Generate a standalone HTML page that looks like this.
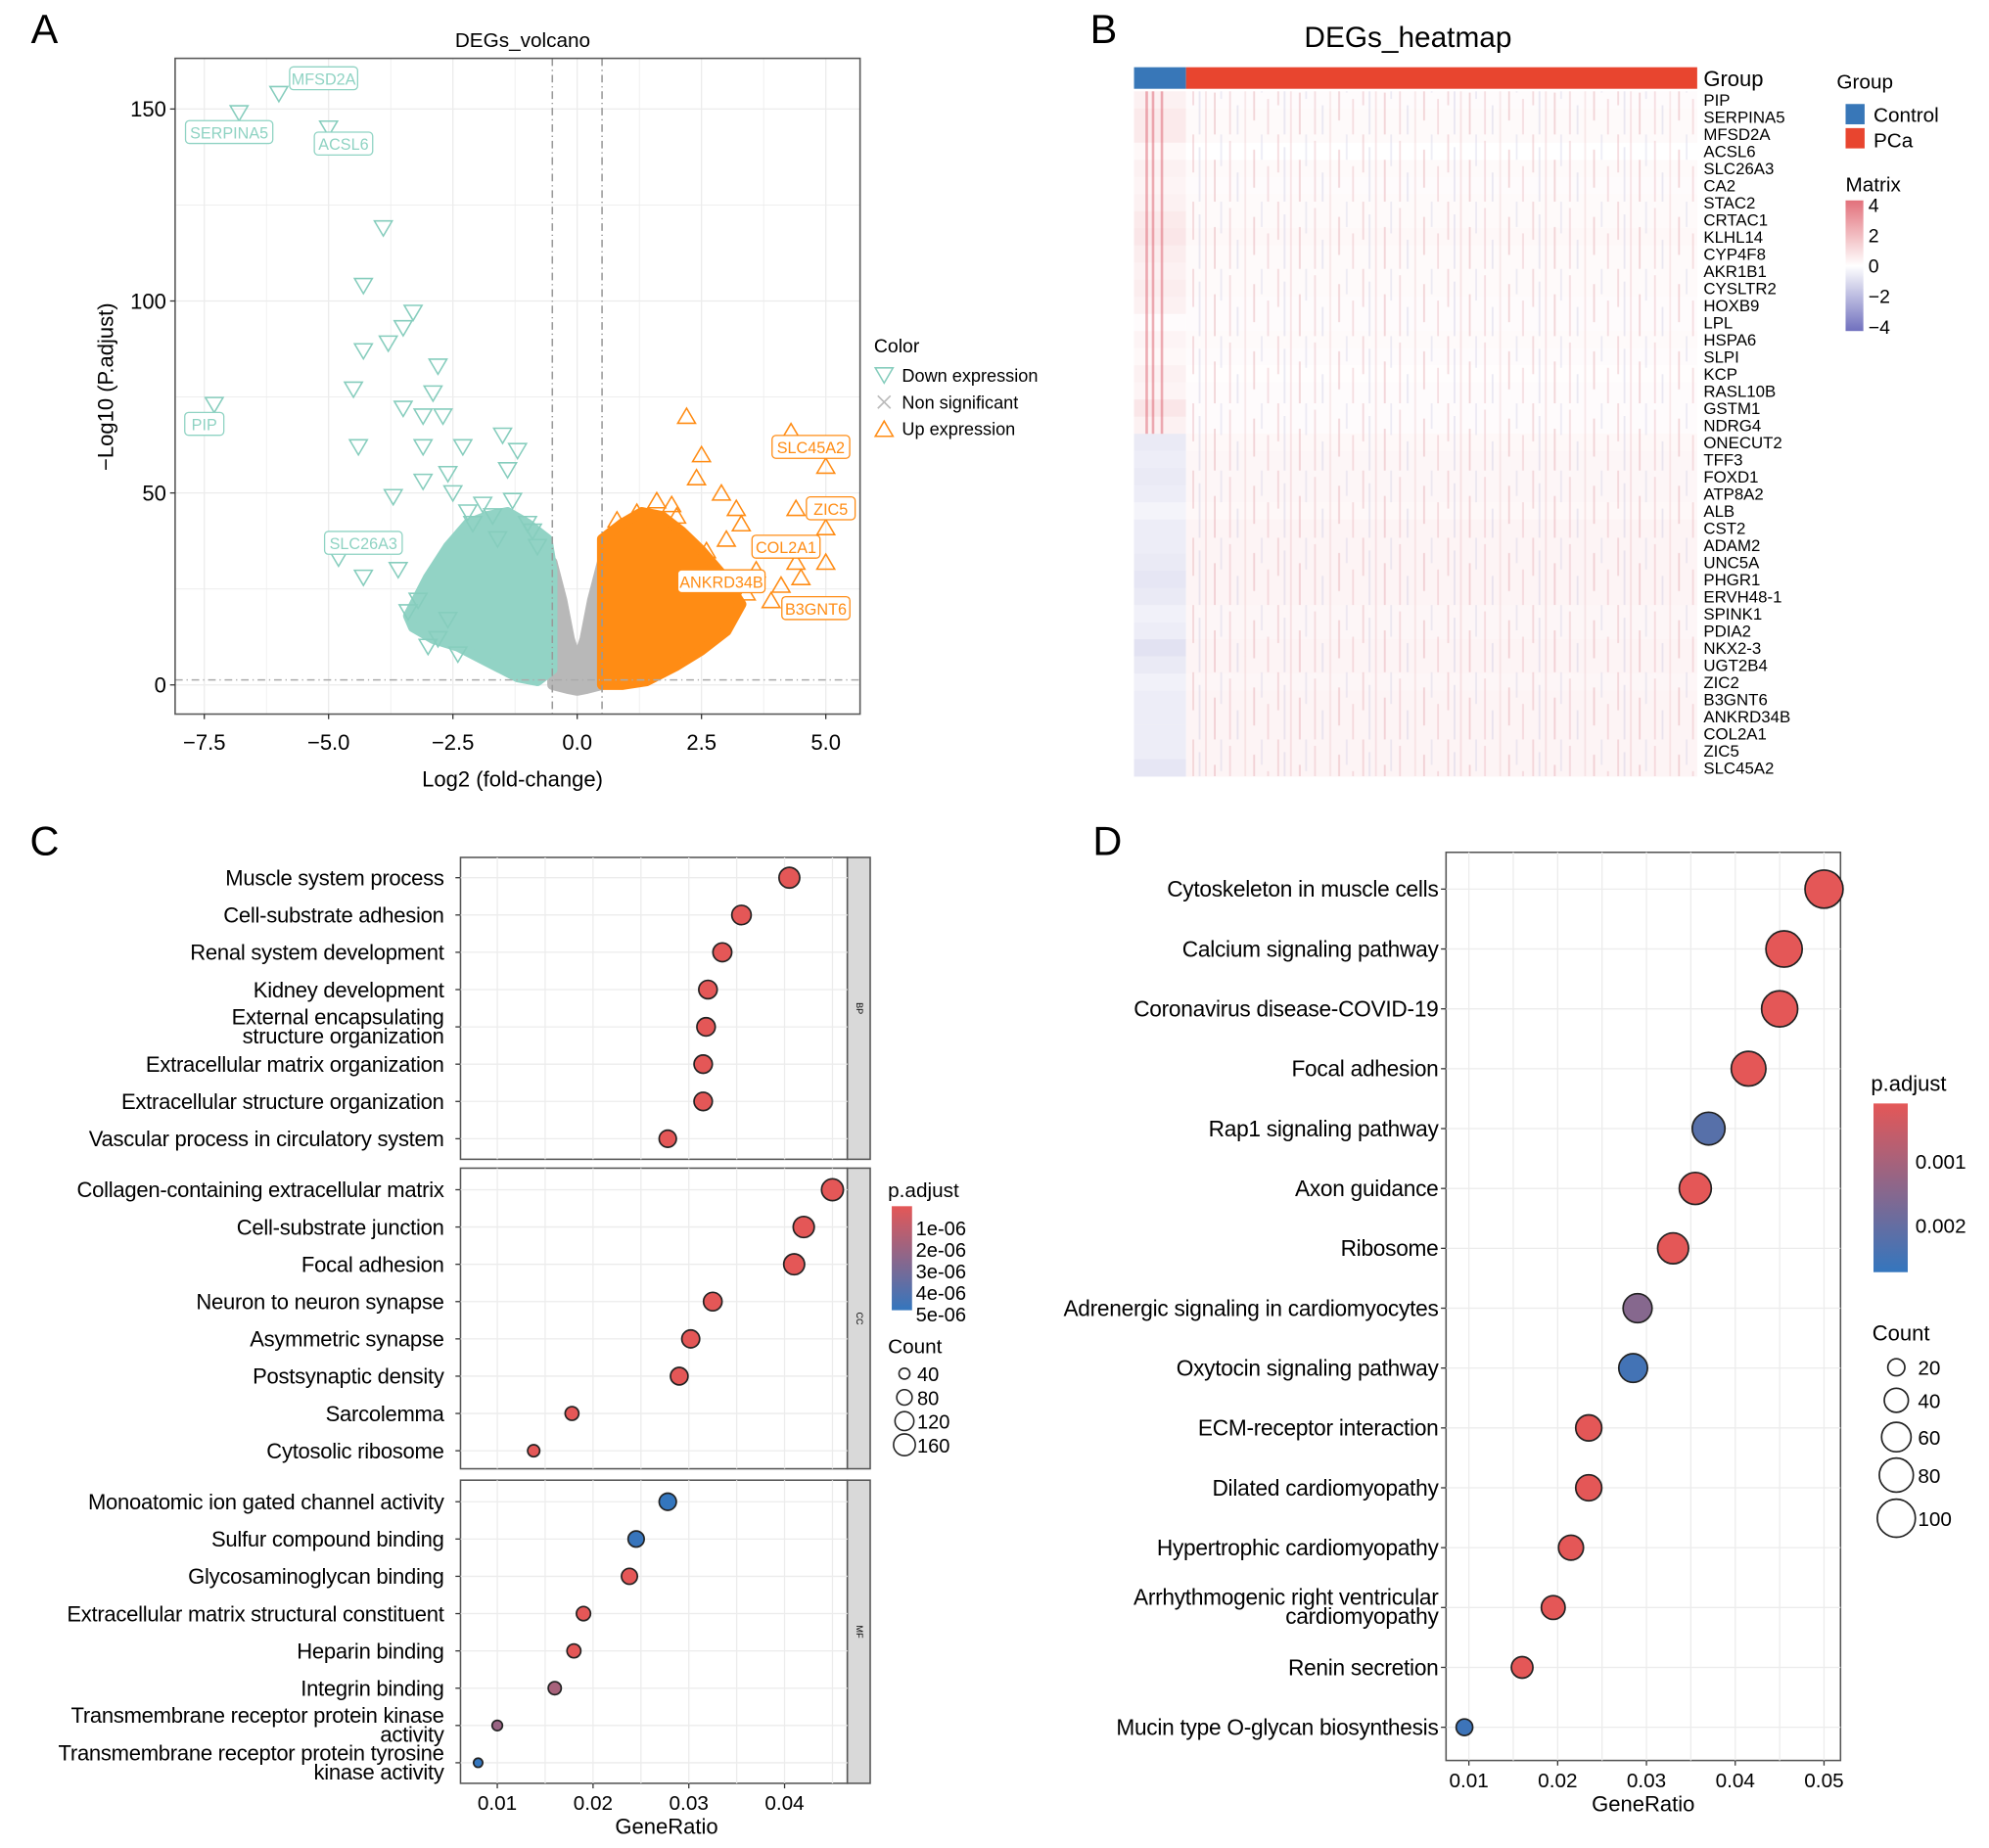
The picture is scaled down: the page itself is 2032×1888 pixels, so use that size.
<!DOCTYPE html>
<html><head><meta charset="utf-8">
<style>
html,body{margin:0;padding:0;background:#fff;}
svg{display:block;font-family:"Liberation Sans",Arial,sans-serif;}
</style></head>
<body>
<svg id="fig" width="2032" height="1888" viewBox="0 0 1568 1457" xmlns="http://www.w3.org/2000/svg">
<g id="A"></g>
<g id="B"></g>
<g id="C"></g>
<g id="D"></g>
</svg>
<script>
// ---------- Panel A data ----------
const downX=[-6.0,-6.8,-5.0,-7.3,-3.9,-4.3,-3.3,-3.5,-3.8,-4.3,-2.8,-4.5,-2.9,-3.5,-3.1,-2.7,-4.4,-3.1,-1.5,-1.2,-2.3,-1.4,-3.1,-3.7,-2.6,-4.8,-4.3,-3.6,-3.2,-3.4,-2.6,-2.2,-1.9,-2.5,-1.3,-0.9,-2.1,-1.7,-1.0,-2.8,-3.0,-2.4,-1.6,-0.8];
const downY=[154,149,145,73,119,104,97,93,89,87,83,77,76,72,70,70,62,62,65,61,62,56,53,49,55,33,28,30,22,19,17,45,47,50,48,40,42,44,42,12,10,8,38,36];
const upX=[2.2,2.5,2.4,2.9,3.2,4.3,5.0,4.4,5.0,5.0,4.4,4.5,3.9,1.6,1.9,3.0,3.3,2.6,2.0,3.6,4.1,1.2,0.8,2.8,3.4,1.4];
const upY=[70,60,54,50,46,66,57,46,41,32,32,28,22,48,47,38,42,35,44,30,26,45,43,20,24,40];
const labelNames=["MFSD2A","SERPINA5","ACSL6","PIP","SLC26A3","SLC45A2","ZIC5","COL2A1","ANKRD34B","B3GNT6"];
const labelX=[-5.1,-7.0,-4.7,-7.5,-4.3,4.7,5.1,4.2,2.9,4.8];
const labelY=[158,144,141,68,37,62,46,36,27,20];
const labelUp=[0,0,0,0,0,1,1,1,1,1];
const downCloudX=[-3.4,-3.0,-2.6,-2.2,-1.8,-1.4,-1.0,-0.6,-0.5,-0.5,-0.8,-1.2,-1.8,-2.4,-2.9,-3.3];
const downCloudY=[18,28,36,42,44,45,42,38,30,4,1,2,6,10,12,15];
const upCloudX=[0.5,0.5,0.9,1.3,1.7,2.1,2.5,2.9,3.3,3.0,2.5,2.0,1.4,0.9];
const upCloudY=[0,38,42,45,44,40,35,29,21,14,9,5,1,0];
const nsCloudX=[-0.5,-0.3,-0.15,0,0.15,0.3,0.5,0.5,0.2,0,-0.2,-0.5];
const nsCloudY=[32,22,12,6,12,22,32,0,-1,-1.5,-1,0];
const volXTicks=[-7.5,-5.0,-2.5,0.0,2.5,5.0];
const volYTicks=[0,50,100,150];

// ---------- Panel B data ----------
const genes=["PIP","SERPINA5","MFSD2A","ACSL6","SLC26A3","CA2","STAC2","CRTAC1","KLHL14","CYP4F8","AKR1B1","CYSLTR2","HOXB9","LPL","HSPA6","SLPI","KCP","RASL10B","GSTM1","NDRG4","ONECUT2","TFF3","FOXD1","ATP8A2","ALB","CST2","ADAM2","UNC5A","PHGR1","ERVH48-1","SPINK1","PDIA2","NKX2-3","UGT2B4","ZIC2","B3GNT6","ANKRD34B","COL2A1","ZIC5","SLC45A2"];
const ctrlVal=[0.4,0.6,0.6,0.2,0.4,0.3,0.4,0.6,0.7,0.5,0.4,0.5,0.4,0.1,0.3,0.2,0.4,0.3,0.7,0.4,-0.6,-0.5,-0.6,-0.5,-0.3,-0.5,-0.5,-0.6,-0.7,-0.6,-0.4,-0.5,-0.8,-0.6,-0.4,-0.5,-0.5,-0.5,-0.5,-0.7];
const pcaVal=[0.1,0.15,0.15,0.0,0.15,0.1,0.15,0.15,0.2,0.15,0.15,0.15,0.1,0.1,0.15,0.1,0.05,0.1,0.1,0.1,0.2,0.25,0.25,0.25,0.2,0.3,0.3,0.3,0.3,0.3,0.25,0.25,0.3,0.3,0.25,0.3,0.3,0.3,0.3,0.3];
const matTicks=[4,2,0,-2,-4];

// ---------- Panel C data ----------
const goTerms=[["Muscle system process"],["Cell-substrate adhesion"],["Renal system development"],["Kidney development"],["External encapsulating","structure organization"],["Extracellular matrix organization"],["Extracellular structure organization"],["Vascular process in circulatory system"],
["Collagen-containing extracellular matrix"],["Cell-substrate junction"],["Focal adhesion"],["Neuron to neuron synapse"],["Asymmetric synapse"],["Postsynaptic density"],["Sarcolemma"],["Cytosolic ribosome"],
["Monoatomic ion gated channel activity"],["Sulfur compound binding"],["Glycosaminoglycan binding"],["Extracellular matrix structural constituent"],["Heparin binding"],["Integrin binding"],["Transmembrane receptor protein kinase","activity"],["Transmembrane receptor protein tyrosine","kinase activity"]];
const goFacet=["BP","BP","BP","BP","BP","BP","BP","BP","CC","CC","CC","CC","CC","CC","CC","CC","MF","MF","MF","MF","MF","MF","MF","MF"];
const goRatio=[0.0405,0.0355,0.0335,0.032,0.0318,0.0315,0.0315,0.0278,0.045,0.042,0.041,0.0325,0.0302,0.029,0.0178,0.0138,0.0278,0.0245,0.0238,0.019,0.018,0.016,0.010,0.008];
const goCount=[144,126,119,114,113,112,112,99,160,149,146,115,107,103,63,49,99,87,85,67,64,57,36,28];
const goPadj=[1e-7,1e-7,1e-7,1e-7,1e-7,1e-7,1e-7,1e-7,1e-7,1e-7,1e-7,1e-7,1e-7,1e-7,1e-7,1e-7,5e-6,4.9e-6,1e-7,1e-7,1e-7,1.8e-6,2.2e-6,5e-6];
const goXTicks=[0.01,0.02,0.03,0.04];
const goPTicks=["1e-06","2e-06","3e-06","4e-06","5e-06"];
const goCountTicks=[40,80,120,160];

// ---------- Panel D data ----------
const keggTerms=[["Cytoskeleton in muscle cells"],["Calcium signaling pathway"],["Coronavirus disease-COVID-19"],["Focal adhesion"],["Rap1 signaling pathway"],["Axon guidance"],["Ribosome"],["Adrenergic signaling in cardiomyocytes"],["Oxytocin signaling pathway"],["ECM-receptor interaction"],["Dilated cardiomyopathy"],["Hypertrophic cardiomyopathy"],["Arrhythmogenic right ventricular","cardiomyopathy"],["Renin secretion"],["Mucin type O-glycan biosynthesis"]];
const keggRatio=[0.050,0.0455,0.045,0.0415,0.037,0.0355,0.033,0.029,0.0285,0.0235,0.0235,0.0215,0.0195,0.016,0.0095];
const keggCount=[100,91,90,83,74,71,66,58,57,47,47,43,39,32,19];
const keggPadj=[0.0001,0.0001,0.0001,0.0001,0.0022,0.0001,0.0001,0.0015,0.0025,0.0001,0.0001,0.0001,0.0001,0.0001,0.0026];
const keggXTicks=[0.01,0.02,0.03,0.04,0.05];
const keggPTicks=[0.001,0.002];
const keggCountTicks=[20,40,60,80,100];

const NS="http://www.w3.org/2000/svg";
function mk(parent,tag,attrs,txt){const e=document.createElementNS(NS,tag);for(const k in attrs)e.setAttribute(k,attrs[k]);if(txt!==undefined)e.textContent=txt;parent.appendChild(e);return e;}
function lerpC(a,b,t){return "rgb("+a.map((v,i)=>Math.round(v+(b[i]-v)*t)).join(",")+")";}
const RED=[228,87,87],BLUE=[52,118,190];

// ================= Panel A =================
(function(){
const g=document.getElementById('A');
const L=138,R=678,T=46,B=563;
const sx=v=>455+v*39.2, sy=v=>540-v*3.027;
let e;
e=mk(g,'text',{x:35,y:34,'font-size':32,'text-anchor':'middle'},'A');

e=mk(g,'text',{x:412,y:37,'font-size':16,'text-anchor':'middle'},'DEGs_volcano');

e=mk(g,'rect',{x:L,y:T,width:R-L,height:B-T,fill:'#fff'});

for(let v=-8.75;v<=6.25;v+=1.25){const x=sx(v);if(x<L||x>R)continue;e=mk(g,'line',{x1:x,x2:x,y1:T,y2:B,stroke:'#ececec','stroke-width':(Math.abs((v/2.5)%1)<0.01)?1:0.6});
}
for(let v=-25;v<=175;v+=25){const y=sy(v);if(y<T||y>B)continue;e=mk(g,'line',{x1:L,x2:R,y1:y,y2:y,stroke:'#ececec','stroke-width':v%50===0?1:0.6});
}
function poly(xs,ys,fill,name){const pts=xs.map((x,i)=>sx(x)+","+sy(ys[i])).join(" ");const p=mk(g,'polygon',{points:pts,fill:fill,stroke:fill,'stroke-width':8,'stroke-linejoin':'round'});
}
poly(nsCloudX,nsCloudY,'#b8b8b8','non-significant-cloud');
poly(downCloudX,downCloudY,'#92d3c5','down-expression-cloud');
poly(upCloudX,upCloudY,'#ff8c14','up-expression-cloud');
function tri(x,y,down,col,name){const s=7;const pts=down?[[x-s,y-s*0.8],[x+s,y-s*0.8],[x,y+s*0.9]]:[[x-s,y+s*0.8],[x+s,y+s*0.8],[x,y-s*0.9]];
const p=mk(g,'polygon',{points:pts.map(q=>q.join(",")).join(" "),fill:'none',stroke:col,'stroke-width':1.2});
}
downX.forEach((v,i)=>tri(sx(v),sy(downY[i]),true,'#86cdbd','down-point'));
upX.forEach((v,i)=>tri(sx(v),sy(upY[i]),false,'#ff8c14','up-point'));
[-0.5,0.5].forEach(v=>{const l=mk(g,'line',{x1:sx(v),x2:sx(v),y1:T,y2:B,stroke:'#999','stroke-dasharray':'6,3,1,3','stroke-width':1.2});
});
e=mk(g,'line',{x1:L,x2:R,y1:sy(1.3),y2:sy(1.3),stroke:'#aaa','stroke-dasharray':'6,3,1,3','stroke-width':1.2});

labelNames.forEach((n,i)=>{const col=labelUp[i]?'#ff8c14':'#8fd3c3';const x=sx(labelX[i]),y=sy(labelY[i]);const w=n.length*7.6+8;
const r=mk(g,'rect',{x:x-w/2,y:y-9,width:w,height:18,rx:3,fill:'#fff',stroke:col,'stroke-width':1});

const t=mk(g,'text',{x:x,y:y+5,'font-size':12.5,'text-anchor':'middle',fill:col},n);
});
e=mk(g,'rect',{x:L,y:T,width:R-L,height:B-T,fill:'none',stroke:'#555','stroke-width':1.2});

volXTicks.forEach(v=>{const x=sx(v);const l=mk(g,'line',{x1:x,x2:x,y1:B,y2:B+4,stroke:'#333'});
const t=mk(g,'text',{x:x,y:B+28,'font-size':17,'text-anchor':'middle'},v.toFixed(1).replace('-','\u2212'));});
volYTicks.forEach(v=>{const y=sy(v);const l=mk(g,'line',{x1:L-4,x2:L,y1:y,y2:y,stroke:'#333'});
const t=mk(g,'text',{x:L-7,y:y+6,'font-size':17,'text-anchor':'end'},v);});
e=mk(g,'text',{x:404,y:620,'font-size':17,'text-anchor':'middle'},'Log2 (fold-change)');

e=mk(g,'text',{x:0,y:0,'font-size':17,'text-anchor':'middle',transform:'translate(89,305) rotate(-90)'},'\u2212Log10 (P.adjust)');

e=mk(g,'text',{x:689,y:278,'font-size':15},'Color');
const leg=[['Down expression','down'],['Non significant','ns'],['Up expression','up']];
leg.forEach((l,i)=>{const y=296+i*21;const x=697;
if(l[1]==='down'){e=mk(g,'polygon',{points:`${x-7},${y-6} ${x+7},${y-6} ${x},${y+6}`,fill:'none',stroke:'#86cdbd','stroke-width':1.2});}
else if(l[1]==='up'){e=mk(g,'polygon',{points:`${x-7},${y+6} ${x+7},${y+6} ${x},${y-6}`,fill:'none',stroke:'#ff8c14','stroke-width':1.2});}
else{e=mk(g,'path',{d:`M${x-5},${y-5}L${x+5},${y+5}M${x-5},${y+5}L${x+5},${y-5}`,stroke:'#bbb','stroke-width':1.3});}

const t=mk(g,'text',{x:711,y:y+5,'font-size':14},l[0]);});
})();

// ================= Panel B =================
(function(){
const g=document.getElementById('B');
const L=894,R=1338,T=72,Bt=612,cEnd=935;
const rowH=(Bt-T)/genes.length;
const sy=i=>T+i*rowH;
function col(v){v=Math.max(-4,Math.min(4,v));return v>=0?lerpC([255,255,255],[226,112,122],v/4):lerpC([255,255,255],[112,112,190],-v/4);}
let e;
e=mk(g,'text',{x:870,y:34,'font-size':32,'text-anchor':'middle'},'B');
e=mk(g,'text',{x:1110,y:37,'font-size':23,'text-anchor':'middle'},'DEGs_heatmap');
e=mk(g,'rect',{x:L,y:53,width:cEnd-L,height:17,fill:'#3877b8'});
e=mk(g,'rect',{x:cEnd,y:53,width:R-cEnd,height:17,fill:'#e8452f'});
e=mk(g,'text',{x:1343,y:68,'font-size':17},'Group');
genes.forEach((gn,i)=>{
const a=mk(g,'rect',{x:L,y:sy(i),width:cEnd-L,height:rowH+0.3,fill:col(ctrlVal[i])});
const b=mk(g,'rect',{x:cEnd,y:sy(i),width:R-cEnd,height:rowH+0.3,fill:col(pcaVal[i])});
const t=mk(g,'text',{x:1343,y:sy(i)+rowH-2,'font-size':13},gn);});
// texture stripes (decorative)
const defs=mk(g,'defs',{});
const pat=mk(defs,'pattern',{id:'stripes',width:67,height:53,patternUnits:'userSpaceOnUse'});
[[2,0,30,'#e29aa2',0.35],[7,10,43,'#b9b9dc',0.3],[12,0,53,'#e29aa2',0.25],[19,20,33,'#e29aa2',0.4],[24,0,25,'#c5c5e4',0.3],[31,5,48,'#e29aa2',0.3],[37,30,23,'#b9b9dc',0.3],[43,0,53,'#e29aa2',0.2],[50,12,30,'#e29aa2',0.4],[56,0,20,'#c5c5e4',0.3],[61,25,28,'#e29aa2',0.3]].forEach(s=>{mk(pat,'rect',{x:s[0],y:s[1],width:1.4,height:s[2],fill:s[3],opacity:s[4]});});
e=mk(g,'rect',{x:cEnd,y:T,width:R-cEnd,height:Bt-T,fill:'url(#stripes)'});
[903,908,915].forEach(x=>{const s=mk(g,'rect',{x:x,y:sy(0),width:2,height:rowH*20,fill:'#d95060',opacity:0.45});});
e=mk(g,'text',{x:1448,y:70,'font-size':16},'Group');
e=mk(g,'rect',{x:1455,y:82,width:15,height:16,fill:'#3877b8'});
e=mk(g,'text',{x:1477,y:96,'font-size':16},'Control');
e=mk(g,'rect',{x:1455,y:101,width:15,height:16,fill:'#e8452f'});
e=mk(g,'text',{x:1477,y:116,'font-size':16},'PCa');
e=mk(g,'text',{x:1455,y:151,'font-size':16},'Matrix');
const grad=mk(defs,'linearGradient',{id:'mgrad',x1:0,y1:0,x2:0,y2:1});
mk(grad,'stop',{offset:'0',  'stop-color':col(4)});mk(grad,'stop',{offset:'0.5','stop-color':'#fff'});mk(grad,'stop',{offset:'1','stop-color':col(-4)});
e=mk(g,'rect',{x:1455,y:158,width:14,height:103,fill:'url(#mgrad)'});
matTicks.forEach(v=>{const y=209-v*12;const t=mk(g,'text',{x:1473,y:y+6,'font-size':15},String(v).replace('-','\u2212'));});
})();

// ================= dot plot helper =================
function dotPanel(g,opt){
let e;
const sx=v=>opt.x0+(v-opt.xv0)*opt.xs;
opt.panels.forEach(p=>{
e=mk(g,'rect',{x:opt.L,y:p.t,width:opt.R-opt.L,height:p.b-p.t,fill:'#fff',stroke:'#555','stroke-width':1.2});
for(let v=opt.xv0-0.005;v<=opt.xmax;v+=0.005){const x=sx(v);if(x<=opt.L||x>=opt.R)continue;const l=mk(g,'line',{x1:x,x2:x,y1:p.t,y2:p.b,stroke:'#ececec','stroke-width':1});}
if(p.strip){e=mk(g,'rect',{x:opt.R,y:p.t,width:18,height:p.b-p.t,fill:'#d9d9d9',stroke:'#555','stroke-width':1.2});
e=mk(g,'text',{x:0,y:0,'font-size':7,'text-anchor':'middle',transform:`translate(${opt.R+7},${(p.t+p.b)/2}) rotate(90)`},p.strip);}
});
opt.terms.forEach((term,i)=>{const y=opt.rowY(i);
const l=mk(g,'line',{x1:opt.L,x2:opt.R,y1:y,y2:y,stroke:'#ececec','stroke-width':1});
const tk=mk(g,'line',{x1:opt.L-4,x2:opt.L,y1:y,y2:y,stroke:'#333'});
term.forEach((ln,j)=>{const yy=term.length===1?y+6:y-2+j*15;
const t=mk(g,'text',{x:opt.L-opt.lg,y:yy,'font-size':opt.fs,'text-anchor':'end','letter-spacing':'-0.2'},ln);});
});
opt.terms.forEach((term,i)=>{
const c=mk(g,'circle',{cx:sx(opt.ratio[i]),cy:opt.rowY(i),r:opt.rad(opt.count[i]),fill:opt.color(opt.padj[i]),stroke:'#222','stroke-width':1.3});
});
const bot=opt.panels[opt.panels.length-1].b;
opt.xticks.forEach(v=>{const x=sx(v);const l=mk(g,'line',{x1:x,x2:x,y1:bot,y2:bot+4,stroke:'#333'});
const t=mk(g,'text',{x:x,y:bot+21,'font-size':16,'text-anchor':'middle'},String(v));});
e=mk(g,'text',{x:(opt.L+opt.R)/2+(opt.titleDx||0),y:bot+40,'font-size':17,'text-anchor':'middle'},'GeneRatio');
}

// ================= Panel C =================
(function(){
const g=document.getElementById('C');
let e=mk(g,'text',{x:35,y:674,'font-size':32,'text-anchor':'middle'},'C');
const facetTop={BP:692,CC:938,MF:1184};
const idxIn=goFacet.map((f,i)=>goFacet.slice(0,i).filter(x=>x===f).length);
dotPanel(g,{L:363,R:668,x0:392,xv0:0.01,xs:7550,xmax:0.048,fs:17,lg:13,
 panels:[{t:676,b:914,strip:'BP'},{t:921,b:1158,strip:'CC'},{t:1167,b:1406,strip:'MF'}],
 terms:goTerms,ratio:goRatio,count:goCount,padj:goPadj,xticks:goXTicks,titleDx:10,
 rowY:i=>facetTop[goFacet[i]]+idxIn[i]*29.4,
 rad:c=>Math.sqrt(c)*0.68,
 color:p=>lerpC(RED,BLUE,Math.max(0,Math.min(1,(p-1e-7)/(5e-6-1e-7))))});
e=mk(g,'text',{x:700,y:944,'font-size':16},'p.adjust');
const defs=mk(g,'defs',{});const gr=mk(defs,'linearGradient',{id:'cgrad',x1:0,y1:0,x2:0,y2:1});
mk(gr,'stop',{offset:'0','stop-color':lerpC(RED,BLUE,0)});mk(gr,'stop',{offset:'1','stop-color':lerpC(RED,BLUE,1)});
e=mk(g,'rect',{x:703,y:951,width:16,height:82,fill:'url(#cgrad)'});
goPTicks.forEach((s,i)=>{const t=mk(g,'text',{x:722,y:974+i*17,'font-size':15.5},s);});
e=mk(g,'text',{x:700,y:1067,'font-size':16},'Count');
goCountTicks.forEach((c,i)=>{const y=1083+i*18.7;const cc=mk(g,'circle',{cx:713,cy:y,r:Math.sqrt(c)*0.68,fill:'none',stroke:'#222','stroke-width':1.2});
const t=mk(g,'text',{x:723,y:y+6,'font-size':15.5},c);});
})();

// ================= Panel D =================
(function(){
const g=document.getElementById('D');
let e=mk(g,'text',{x:873,y:674,'font-size':32,'text-anchor':'middle'},'D');
const pLo=0.0001,pHi=0.00273;
dotPanel(g,{L:1140,R:1451,x0:1158,xv0:0.01,xs:7000,xmax:0.052,fs:17.5,lg:6,
 panels:[{t:672,b:1388}],
 terms:keggTerms,ratio:keggRatio,count:keggCount,padj:keggPadj,xticks:keggXTicks,titleDx:0,
 rowY:i=>701+i*47.2,
 rad:c=>Math.sqrt(c)*1.5,
 color:p=>lerpC(RED,BLUE,Math.max(0,Math.min(1,(p-pLo)/(pHi-pLo))))});
e=mk(g,'text',{x:1475,y:860,'font-size':17},'p.adjust');
const defs=mk(g,'defs',{});const gr=mk(defs,'linearGradient',{id:'dgrad',x1:0,y1:0,x2:0,y2:1});
mk(gr,'stop',{offset:'0','stop-color':lerpC(RED,BLUE,0)});mk(gr,'stop',{offset:'1','stop-color':lerpC(RED,BLUE,1)});
e=mk(g,'rect',{x:1477,y:870,width:27,height:133,fill:'url(#dgrad)'});
keggPTicks.forEach(v=>{const y=870+(v-pLo)/(pHi-pLo)*133;const t=mk(g,'text',{x:1510,y:y+6,'font-size':16},v.toFixed(3));});
e=mk(g,'text',{x:1476,y:1057,'font-size':17},'Count');
const ys=[1078,1104,1133,1163,1197];
keggCountTicks.forEach((c,i)=>{const cc=mk(g,'circle',{cx:1495,cy:ys[i],r:Math.sqrt(c)*1.5,fill:'none',stroke:'#222','stroke-width':1.3});
const t=mk(g,'text',{x:1512,y:ys[i]+6,'font-size':16},c);});
})();
</script>
</body></html>
